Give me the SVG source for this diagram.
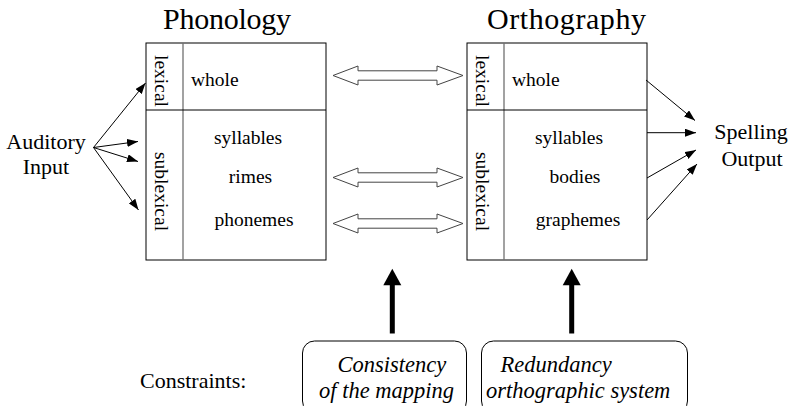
<svg xmlns="http://www.w3.org/2000/svg" width="790" height="406" viewBox="0 0 790 406" font-family="'Liberation Serif', 'DejaVu Serif', serif">
<defs>
<style>
text{font-family:'Liberation Serif','DejaVu Serif',serif;fill:#000}
.title{font-size:30px}
.lbl{font-size:22px}
.in{font-size:19.5px}
.it{font-size:22.5px;font-style:italic}
.box{fill:#fff;stroke:#000;stroke-width:1}
.div{stroke:#707070;stroke-width:1.3}
.hdiv{stroke:#000;stroke-width:1}
.thin{stroke:#000;stroke-width:1;fill:none;marker-end:url(#ah)}
.dbl{fill:#fff;stroke:#444;stroke-width:1}
.thick{stroke:#000;stroke-width:5}
.cbox{fill:none;stroke:#000;stroke-width:1}
</style>
<marker id="ah" viewBox="0 0 11 8" refX="11" refY="4" markerWidth="11" markerHeight="8" markerUnits="userSpaceOnUse" orient="auto">
<path d="M0,0 L11,4 L0,8 z" fill="#000"/>
</marker>
</defs>
<rect width="790" height="406" fill="#fff"/>

<g id="phonology">
<text class="title" x="163" y="29" textLength="128" lengthAdjust="spacing">Phonology</text>
<rect class="box" x="146" y="43" width="180" height="217"/>
<line class="div" x1="183" y1="43" x2="183" y2="260"/>
<line class="hdiv" x1="146" y1="110" x2="326" y2="110"/>
<text class="in" transform="translate(154.5,55) rotate(90)">lexical</text>
<text class="in" transform="translate(154.5,152) rotate(90)">sublexical</text>
<text class="in" x="191" y="86">whole</text>
<text class="in" x="248" y="144" text-anchor="middle">syllables</text>
<text class="in" x="250.5" y="183" text-anchor="middle">rimes</text>
<text class="in" x="254" y="226" text-anchor="middle">phonemes</text>
</g>

<g id="orthography">
<text class="title" x="487" y="29" textLength="159" lengthAdjust="spacing">Orthography</text>
<rect class="box" x="467" y="43" width="180" height="217"/>
<line class="div" x1="504" y1="43" x2="504" y2="260"/>
<line class="hdiv" x1="467" y1="110" x2="647" y2="110"/>
<text class="in" transform="translate(475.5,55) rotate(90)">lexical</text>
<text class="in" transform="translate(475.5,152) rotate(90)">sublexical</text>
<text class="in" x="512" y="86">whole</text>
<text class="in" x="569" y="144" text-anchor="middle">syllables</text>
<text class="in" x="575" y="183" text-anchor="middle">bodies</text>
<text class="in" x="578" y="226" text-anchor="middle">graphemes</text>
</g>

<g id="auditory-input">
<text class="lbl" x="46" y="149" text-anchor="middle">Auditory</text>
<text class="lbl" x="46" y="174" text-anchor="middle">Input</text>
</g>

<g id="spelling-output">
<text class="lbl" x="751" y="139" text-anchor="middle">Spelling</text>
<text class="lbl" x="752" y="166" text-anchor="middle">Output</text>
</g>

<g id="constraints-label">
<text class="lbl" x="140" y="388">Constraints:</text>
</g>

<g id="constraint-consistency">
<rect class="cbox" x="302.5" y="341" width="164" height="72" rx="12" ry="12"/>
<text class="it" x="337.5" y="372">Consistency</text>
<text class="it" x="319" y="397.5">of the mapping</text>
</g>

<g id="constraint-redundancy">
<rect class="cbox" x="481.5" y="341" width="206" height="72" rx="12" ry="12"/>
<text class="it" x="500.5" y="372">Redundancy</text>
<text class="it" x="486" y="397.5">orthographic system</text>
</g>

<g id="connectors">
<line class="thin" x1="93.5" y1="147.5" x2="145.5" y2="83"/>
<line class="thin" x1="93.5" y1="147.5" x2="138" y2="141.5"/>
<line class="thin" x1="93.5" y1="147.5" x2="138" y2="161.5"/>
<line class="thin" x1="93.5" y1="147.5" x2="138.5" y2="210"/>

<line class="thin" x1="646" y1="80" x2="695" y2="120.5"/>
<line class="thin" x1="647" y1="132.7" x2="696" y2="132.7"/>
<line class="thin" x1="647" y1="178" x2="696" y2="150"/>
<line class="thin" x1="647" y1="220" x2="697" y2="164"/>

<polygon class="dbl" points="333,75.5 358,66 358,70.8 437,70.8 437,66 463,75.5 437,85 437,80.2 358,80.2 358,85"/>
<polygon class="dbl" points="333,177.5 358,168 358,172.8 437,172.8 437,168 463,177.5 437,187 437,182.2 358,182.2 358,187"/>
<polygon class="dbl" points="333,223.5 358,214 358,218.8 437,218.8 437,214 463,223.5 437,233 437,228.2 358,228.2 358,233"/>

<line class="thick" x1="392.3" y1="333.5" x2="392.3" y2="284"/>
<polygon points="392.3,268.7 383.3,285.3 401.3,285.3" fill="#000"/>
<line class="thick" x1="571.7" y1="333.5" x2="571.7" y2="284"/>
<polygon points="571.7,268.7 562.7,285.3 580.7,285.3" fill="#000"/>
</g>
</svg>
